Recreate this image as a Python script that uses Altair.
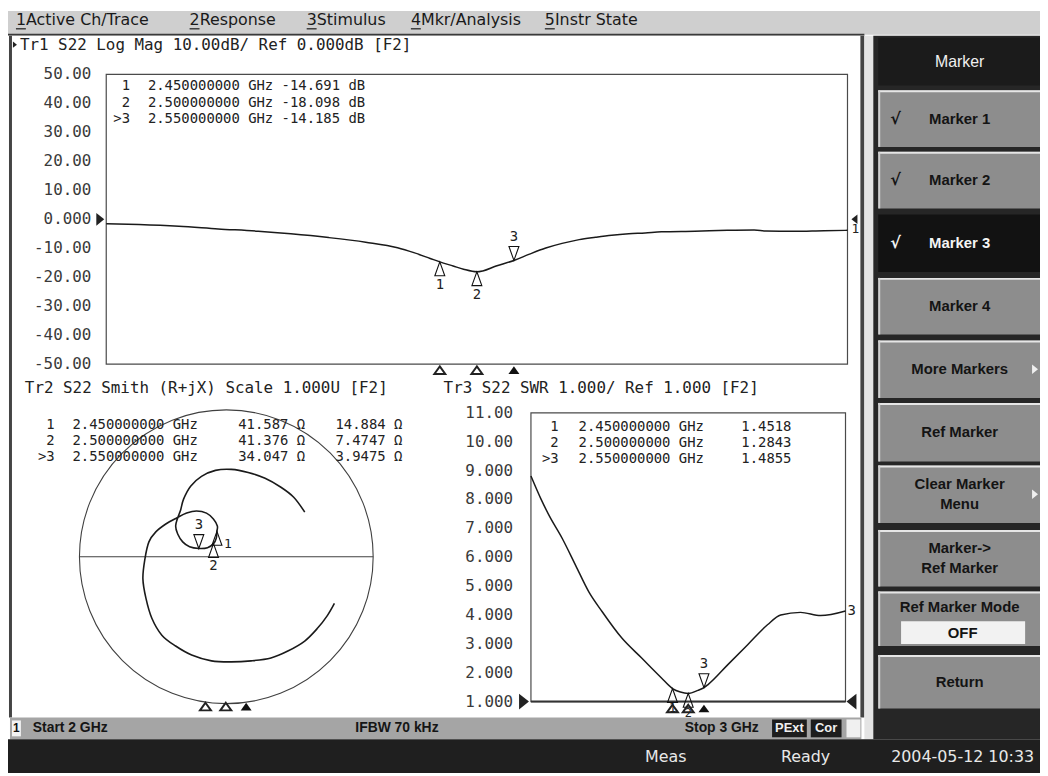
import altair as alt
import pandas as pd

# ---------------- values ----------------
F_START, F_STOP = 2.0, 3.0            # Start 2 GHz / Stop 3 GHz
REF_DB, REF_SWR = 0.0, 1.0            # reference levels
Z0 = 50.0

mk_id = [1, 2, 3]
mk_tag = ["1", "2", ">3"]
mk_freq = [2.45, 2.50, 2.55]               # GHz
mk_db = [-14.691, -18.098, -14.185]        # Tr1 Log Mag (dB)
mk_swr = [1.4518, 1.2843, 1.4855]          # Tr3 SWR
mk_r = [41.587, 41.376, 34.047]            # Tr2 R (ohm)
mk_jx = [14.884, 7.4747, 3.9475]           # Tr2 X (ohm)

# Tr1 S22 Log Mag trace
lm_freq = [2.000, 2.044, 2.098, 2.151, 2.205, 2.249, 2.300, 2.350, 2.393, 2.415,
           2.437, 2.468, 2.482, 2.508, 2.526, 2.571, 2.593, 2.615, 2.638, 2.660,
           2.682, 2.705, 2.727, 2.749, 2.794, 2.838, 2.874, 2.890, 2.928, 2.968, 3.000]
lm_db = [-1.5, -1.8, -2.4, -3.3, -4.1, -5.0, -6.3, -7.9, -9.8, -11.5,
         -13.5, -16.1, -17.2, -17.8, -16.1, -12.0, -9.9, -8.3, -7.0, -6.2,
         -5.5, -5.0, -4.7, -4.3, -4.1, -3.8, -3.7, -4.0, -4.1, -3.9, -3.8]

# Tr3 S22 SWR trace
swr_freq = [2.000, 2.032, 2.058, 2.100, 2.142, 2.184, 2.226, 2.289, 2.352, 2.415,
            2.475, 2.531, 2.563, 2.626, 2.689, 2.752, 2.794, 2.857, 2.921, 3.000]
swr_val = [8.81, 8.01, 7.44, 6.64, 5.72, 4.80, 4.12, 3.20, 2.51, 1.82,
           1.33, 1.39, 1.59, 2.28, 2.97, 3.66, 4.00, 4.09, 3.98, 4.14]

# Tr2 S22 Smith trace (reflection coefficient, real / imaginary)
sm_re = [0.736, 0.689, 0.622, 0.534, 0.419, 0.304, 0.169, 0.034, -0.101, -0.236,
         -0.345, -0.439, -0.507, -0.547, -0.568, -0.554, -0.527, -0.480, -0.412, -0.338,
         -0.270, -0.203, -0.135, -0.088, -0.061, -0.064, -0.068, -0.087, -0.128, -0.187,
         -0.250, -0.297, -0.331, -0.345, -0.331, -0.311, -0.291, -0.243, -0.169, -0.074,
         0.034, 0.149, 0.264, 0.372, 0.459, 0.534]
sm_im = [-0.318, -0.399, -0.486, -0.574, -0.642, -0.689, -0.709, -0.716, -0.709, -0.669,
         -0.608, -0.534, -0.419, -0.284, -0.149, -0.014, 0.101, 0.169, 0.223, 0.264,
         0.297, 0.311, 0.297, 0.257, 0.209, 0.173, 0.128, 0.089, 0.061, 0.056,
         0.068, 0.101, 0.155, 0.209, 0.264, 0.318, 0.392, 0.480, 0.547, 0.588,
         0.595, 0.574, 0.534, 0.473, 0.405, 0.304]

t1_val = [50, 40, 30, 20, 10, 0, -10, -20, -30, -40, -50]
t1_lab = ["50.00", "40.00", "30.00", "20.00", "10.00", "0.000",
          "-10.00", "-20.00", "-30.00", "-40.00", "-50.00"]
t3_val = [11, 10, 9, 8, 7, 6, 5, 4, 3, 2, 1]
t3_lab = ["11.00", "10.00", "9.000", "8.000", "7.000", "6.000",
          "5.000", "4.000", "3.000", "2.000", "1.000"]

menu_items = ["1Active Ch/Trace", "2Response", "3Stimulus", "4Mkr/Analysis", "5Instr State"]
soft_keys = [["Marker 1"], ["Marker 2"], ["Marker 3"], ["Marker 4"], ["More Markers"],
             ["Ref Marker"], ["Clear Marker", "Menu"], ["Marker->", "Ref Marker"],
             ["Ref Marker Mode"], ["Return"]]

# ---------------- tables ----------------
lm_df = pd.DataFrame({"f": lm_freq + mk_freq, "v": lm_db + mk_db}).sort_values("f")
swr_df = pd.DataFrame({"f": swr_freq + mk_freq, "v": swr_val + mk_swr}).sort_values("f")
sm_df = pd.DataFrame({"i": list(range(len(sm_re))), "re": sm_re, "im": sm_im})

gre, gim = [], []
for r, x in zip(mk_r, mk_jx):
    z = complex(r, x) / Z0
    g = (z - 1) / (z + 1)
    gre.append(g.real)
    gim.append(g.imag)

mk = pd.DataFrame({
    "id": mk_id, "lab": [str(i) for i in mk_id], "tag": mk_tag, "f": mk_freq,
    "db": mk_db, "swr": mk_swr, "gre": gre, "gim": gim,
    "t1": [f"{f:.9f} GHz {d:.3f} dB" for f, d in zip(mk_freq, mk_db)],
    "fq": [f"{f:.9f} GHz" for f in mk_freq],
    "t3": [f"{s:.4f}" for s in mk_swr],
    "tr": [f"{r:.3f} \u03a9" for r in mk_r],
    "tx": [f"{x:.5g} \u03a9" for x in mk_jx],
})
yt1 = pd.DataFrame({"v": t1_val, "lab": t1_lab})
yt3 = pd.DataFrame({"v": t3_val, "lab": t3_lab})
lim1 = pd.DataFrame({"f0": [F_START], "f1": [F_STOP], "v0": [min(t1_val)], "v1": [max(t1_val)]})
lim3 = pd.DataFrame({"f0": [F_START], "f1": [F_STOP], "v0": [min(t3_val)], "v1": [max(t3_val)]})
ref1 = pd.DataFrame({"v": [REF_DB]})
ref3 = pd.DataFrame({"v": [REF_SWR]})
end3 = pd.DataFrame({"f": [F_STOP], "v": [swr_val[-1]], "lab": ["3"]})
unit = pd.DataFrame({"a": [-1.0], "b": [1.0], "c": [0.0]})
ONE = pd.DataFrame({"k": [0]})

# ---------------- geometry helpers ----------------
OX, OY = 8, 8


def px(x):
    return x - OX


def py(y):
    return y - OY


MONO = "DejaVu Sans Mono"
SANS = "DejaVu Sans"
ARIAL = "Liberation Sans"
RO = 14  # readout font size


def sc(domain, rng):
    return alt.Scale(domain=domain, range=rng, nice=False, zero=False)


SX1 = sc([F_START, F_STOP], [px(107), px(854)])
SY1 = sc([min(t1_val), max(t1_val)], [py(364), py(72)])
SX3 = sc([F_START, F_STOP], [px(535), px(852)])
SY3 = sc([min(t3_val), max(t3_val)], [py(704), py(413)])
GX = sc([-1, 1], [px(80), px(376)])
GY = sc([-1, 1], [py(706), py(410)])
SXS = sc([mk_freq[0], mk_freq[-1]], [px(207), px(248)])
RY1 = sc([1, 3], [py(84), py(117)])
RY3 = sc([1, 3], [py(427), py(460)])
RYS = sc([1, 3], [py(425), py(458)])

UP = "M0,0L0.5,1.4L-0.5,1.4Z"
DN = "M0,0L0.5,-1.4L-0.5,-1.4Z"
STIM = "M0,-0.7L1,0.7L-1,0.7Z"
RIGHT = "M-1,-1.6L1,0L-1,1.6Z"
LEFT = "M1,-1.6L-1,0L1,1.6Z"


def box(x1, y1, x2, y2, fill):
    return alt.Chart(ONE).mark_rect(fill=fill, strokeWidth=0).encode(
        x=alt.value(px(x1)), x2=alt.value(px(x2)), y=alt.value(py(y1)), y2=alt.value(py(y2)))


def txt(s, x, y, size=14, color="#111111", font=SANS, align="left", weight="normal"):
    return alt.Chart(ONE).mark_text(text=s, align=align, baseline="middle", fontSize=size,
                                    font=font, color=color, fontWeight=weight).encode(
        x=alt.value(px(x)), y=alt.value(py(y)))


def hline(x1, x2, y, color, w=1.0):
    return alt.Chart(ONE).mark_rule(color=color, strokeWidth=w).encode(
        x=alt.value(px(x1)), x2=alt.value(px(x2)), y=alt.value(py(y)))


def sym(shape, x, y, size, color, filled=True):
    return alt.Chart(ONE).mark_point(shape=shape, size=size, filled=filled, color=color,
                                     opacity=1, strokeWidth=1).encode(
        x=alt.value(px(x)), y=alt.value(py(y)))


layers = []

# ---------------- screen furniture ----------------
layers += [
    box(8, 8, 1048, 32, "#cfcfcf"),
    box(8, 31, 871, 33, "#3a3a3a"),
    box(8, 33, 871, 720, "#ffffff"),
    box(9, 33, 12, 720, "#444444"),
    box(867, 33, 871, 720, "#444444"),
    box(871, 33, 880, 742, "#e4e4e4"),
    box(880, 33, 1048, 742, "#262626"),
    box(10, 720, 868, 742, "#a5a5a5"),
    box(8, 742, 1048, 776, "#1f1f1f"),
]

menu_x = [16, 191, 309, 414, 549]
for s, x in zip(menu_items, menu_x):
    layers.append(txt(s, x, 17, size=16, color="#1a1a1a", font=SANS))
    layers.append(hline(x, x + 10, 26, "#1a1a1a", 1.2))

# soft keys
layers.append(box(885, 35, 1048, 83, "#1b1b1b"))
layers.append(txt("Marker", 967, 59, size=16, color="#f0f0f0", font=ARIAL, align="center"))
key_top = [88, 150, 213, 277, 340, 403, 466, 531, 593, 657]
key_bot = [145, 207, 271, 334, 398, 462, 524, 588, 648, 711]
for i, (lines, y0, y1) in enumerate(zip(soft_keys, key_top, key_bot)):
    active = (i == 2)
    if active:
        layers.append(box(885, y0, 1048, y1, "#121212"))
        col = "#f4f4f4"
    else:
        layers.append(box(885, y0, 1048, y1, "#8d8d8d"))
        layers.append(box(885, y0, 1048, y0 + 2, "#e6e6e6"))
        layers.append(box(885, y0, 887, y1, "#d0d0d0"))
        col = "#141414"
    yc = (y0 + y1) / 2
    if lines[0] == "Ref Marker Mode":
        layers.append(txt(lines[0], 967, y0 + 16, size=15, color=col, font=ARIAL,
                          align="center", weight="bold"))
        layers.append(box(908, y0 + 30, 1033, y0 + 53, "#f2f2f2"))
        layers.append(txt("OFF", 970, y0 + 42, size=15, color="#141414", font=ARIAL,
                          align="center", weight="bold"))
    elif len(lines) == 2:
        layers.append(txt(lines[0], 967, yc - 10, size=15, color=col, font=ARIAL,
                          align="center", weight="bold"))
        layers.append(txt(lines[1], 967, yc + 10, size=15, color=col, font=ARIAL,
                          align="center", weight="bold"))
    else:
        layers.append(txt(lines[0], 967, yc, size=15, color=col, font=ARIAL,
                          align="center", weight="bold"))
    if i < 3:
        layers.append(txt("\u221a", 897, yc, size=16, color=col, font=SANS, weight="bold"))
    if lines[0] in ("More Markers", "Clear Marker"):
        layers.append(sym(RIGHT, 1043, yc, 36, "#f0f0f0"))

# channel status bar
layers += [
    box(12, 723, 21, 739, "#f2f2f2"),
    txt("1", 16.5, 731, size=12, color="#111111", font=ARIAL, align="center", weight="bold"),
    txt("Start 2 GHz", 33, 731, size=14, color="#151515", font=ARIAL, weight="bold"),
    txt("IFBW 70 kHz", 358, 731, size=14, color="#151515", font=ARIAL, weight="bold"),
    txt("Stop 3 GHz", 690, 731, size=14, color="#151515", font=ARIAL, weight="bold"),
    box(778, 722, 813, 740, "#1d1d1d"),
    txt("PExt", 795.5, 731, size=13, color="#f0f0f0", font=ARIAL, align="center", weight="bold"),
    box(817, 722, 848, 740, "#1d1d1d"),
    txt("Cor", 832.5, 731, size=13, color="#f0f0f0", font=ARIAL, align="center", weight="bold"),
    box(853, 722, 867, 740, "#f0f0f0"),
]
# instrument status bar
layers += [
    txt("Meas", 650, 760, size=16, color="#e8e8e8", font=SANS),
    txt("Ready", 787, 760, size=16, color="#e8e8e8", font=SANS),
    txt("2004-05-12 10:33", 898, 760, size=16, color="#e8e8e8", font=SANS),
]

# ---------------- Tr1 : Log Mag ----------------
layers.append(sym(RIGHT, 15, 42, 16, "#222222"))
layers.append(txt("Tr1 S22 Log Mag 10.00dB/ Ref 0.000dB [F2]", 20, 42, size=16,
                  color="#222222", font=MONO))
layers.append(alt.Chart(lim1).mark_rect(fillOpacity=0, stroke="#4a4a4a", strokeWidth=1.2).encode(
    x=alt.X("f0:Q", scale=SX1, axis=None), x2="f1:Q",
    y=alt.Y("v0:Q", scale=SY1, axis=None), y2="v1:Q"))
layers.append(alt.Chart(yt1).mark_text(align="right", baseline="middle", font=MONO, fontSize=16,
                                       color="#3a3a3a").encode(
    x=alt.value(px(92)), y=alt.Y("v:Q", scale=SY1, axis=None), text="lab:N"))
layers.append(alt.Chart(ref1).mark_point(shape=RIGHT, size=64, filled=True, color="#222222",
                                         opacity=1).encode(
    x=alt.value(px(101)), y=alt.Y("v:Q", scale=SY1, axis=None)))
layers.append(alt.Chart(ref1).mark_point(shape=LEFT, size=36, filled=True, color="#222222",
                                         opacity=1).encode(
    x=alt.value(px(861)), y=alt.Y("v:Q", scale=SY1, axis=None)))
layers.append(alt.Chart(ref1).mark_text(dy=10, font=MONO, fontSize=13, color="#222222").encode(
    x=alt.value(px(862)), y=alt.Y("v:Q", scale=SY1, axis=None), text=alt.value("1")))
layers.append(alt.Chart(lm_df).mark_line(color="#1a1a1a", strokeWidth=1.5,
                                         interpolate="monotone").encode(
    x=alt.X("f:Q", scale=SX1, axis=None), y=alt.Y("v:Q", scale=SY1, axis=None)))

m12 = alt.Chart(mk).transform_filter("datum.id < 3")
m1 = alt.Chart(mk).transform_filter("datum.id == 1")
m2 = alt.Chart(mk).transform_filter("datum.id == 2")
m3 = alt.Chart(mk).transform_filter("datum.id == 3")
layers += [
    m12.mark_point(shape=UP, size=400, filled=False, color="#111111", opacity=1,
                   strokeWidth=1.1).encode(
        x=alt.X("f:Q", scale=SX1, axis=None), y=alt.Y("db:Q", scale=SY1, axis=None)),
    m3.mark_point(shape=DN, size=400, filled=False, color="#111111", opacity=1,
                  strokeWidth=1.1).encode(
        x=alt.X("f:Q", scale=SX1, axis=None), y=alt.Y("db:Q", scale=SY1, axis=None)),
    m12.mark_text(dy=23, font=MONO, fontSize=14, color="#222222").encode(
        x=alt.X("f:Q", scale=SX1, axis=None), y=alt.Y("db:Q", scale=SY1, axis=None), text="lab:N"),
    m3.mark_text(dy=-24, font=MONO, fontSize=14, color="#222222").encode(
        x=alt.X("f:Q", scale=SX1, axis=None), y=alt.Y("db:Q", scale=SY1, axis=None), text="lab:N"),
    m12.mark_point(shape=STIM, size=121, filled=False, color="#222222", opacity=1).encode(
        x=alt.X("f:Q", scale=SX1, axis=None), y=alt.value(py(370))),
    m3.mark_point(shape=STIM, size=121, filled=True, color="#111111", opacity=1).encode(
        x=alt.X("f:Q", scale=SX1, axis=None), y=alt.value(py(370))),
    alt.Chart(mk).mark_text(align="right", baseline="middle", font=MONO, fontSize=RO,
                            color="#222222").encode(
        x=alt.value(px(131)), y=alt.Y("id:Q", scale=RY1, axis=None), text="tag:N"),
    alt.Chart(mk).mark_text(align="left", baseline="middle", font=MONO, fontSize=RO,
                            color="#222222").encode(
        x=alt.value(px(149)), y=alt.Y("id:Q", scale=RY1, axis=None), text="t1:N"),
]

# ---------------- Tr2 : Smith chart ----------------
layers.append(txt("Tr2 S22 Smith (R+jX) Scale 1.000U [F2]", 25, 388, size=16,
                  color="#222222", font=MONO))
layers.append(alt.Chart(unit).mark_point(shape="circle", size=296 * 296, filled=False,
                                         color="#404040", opacity=1, strokeWidth=1.1).encode(
    x=alt.X("c:Q", scale=GX, axis=None), y=alt.Y("c:Q", scale=GY, axis=None)))
layers.append(alt.Chart(unit).mark_rule(color="#404040", strokeWidth=1.1).encode(
    x=alt.X("a:Q", scale=GX, axis=None), x2="b:Q", y=alt.Y("c:Q", scale=GY, axis=None)))
layers.append(alt.Chart(sm_df).mark_line(color="#1a1a1a", strokeWidth=1.6,
                                         interpolate="cardinal").encode(
    x=alt.X("re:Q", scale=GX, axis=None), y=alt.Y("im:Q", scale=GY, axis=None),
    order=alt.Order("i:Q")))
layers += [
    m12.mark_point(shape=UP, size=400, filled=False, color="#111111", opacity=1,
                   strokeWidth=1.1).encode(
        x=alt.X("gre:Q", scale=GX, axis=None), y=alt.Y("gim:Q", scale=GY, axis=None)),
    m3.mark_point(shape=DN, size=400, filled=False, color="#111111", opacity=1,
                  strokeWidth=1.1).encode(
        x=alt.X("gre:Q", scale=GX, axis=None), y=alt.Y("gim:Q", scale=GY, axis=None)),
    m1.mark_text(dx=11, dy=13, font=MONO, fontSize=13, color="#222222").encode(
        x=alt.X("gre:Q", scale=GX, axis=None), y=alt.Y("gim:Q", scale=GY, axis=None), text="lab:N"),
    m2.mark_text(dy=23, font=MONO, fontSize=14, color="#222222").encode(
        x=alt.X("gre:Q", scale=GX, axis=None), y=alt.Y("gim:Q", scale=GY, axis=None), text="lab:N"),
    m3.mark_text(dy=-24, font=MONO, fontSize=14, color="#222222").encode(
        x=alt.X("gre:Q", scale=GX, axis=None), y=alt.Y("gim:Q", scale=GY, axis=None), text="lab:N"),
    m12.mark_point(shape=STIM, size=121, filled=False, color="#222222", opacity=1).encode(
        x=alt.X("f:Q", scale=SXS, axis=None), y=alt.value(py(709))),
    m3.mark_point(shape=STIM, size=121, filled=True, color="#111111", opacity=1).encode(
        x=alt.X("f:Q", scale=SXS, axis=None), y=alt.value(py(709))),
    alt.Chart(mk).mark_text(align="right", baseline="middle", font=MONO, fontSize=RO,
                            color="#222222").encode(
        x=alt.value(px(55)), y=alt.Y("id:Q", scale=RYS, axis=None), text="tag:N"),
    alt.Chart(mk).mark_text(align="left", baseline="middle", font=MONO, fontSize=RO,
                            color="#222222").encode(
        x=alt.value(px(73)), y=alt.Y("id:Q", scale=RYS, axis=None), text="fq:N"),
    alt.Chart(mk).mark_text(align="left", baseline="middle", font=MONO, fontSize=RO,
                            color="#222222").encode(
        x=alt.value(px(240)), y=alt.Y("id:Q", scale=RYS, axis=None), text="tr:N"),
    alt.Chart(mk).mark_text(align="left", baseline="middle", font=MONO, fontSize=RO,
                            color="#222222").encode(
        x=alt.value(px(338)), y=alt.Y("id:Q", scale=RYS, axis=None), text="tx:N"),
]

# ---------------- Tr3 : SWR ----------------
layers.append(txt("Tr3 S22 SWR 1.000/ Ref 1.000 [F2]", 447, 388, size=16,
                  color="#222222", font=MONO))
layers.append(alt.Chart(lim3).mark_rect(fillOpacity=0, stroke="#4a4a4a", strokeWidth=1.2).encode(
    x=alt.X("f0:Q", scale=SX3, axis=None), x2="f1:Q",
    y=alt.Y("v0:Q", scale=SY3, axis=None), y2="v1:Q"))
layers.append(alt.Chart(ref3).mark_rule(color="#333333", strokeWidth=2).encode(
    x=alt.value(px(535)), x2=alt.value(px(852)), y=alt.Y("v:Q", scale=SY3, axis=None)))
layers.append(alt.Chart(yt3).mark_text(align="right", baseline="middle", font=MONO, fontSize=16,
                                       color="#3a3a3a").encode(
    x=alt.value(px(517)), y=alt.Y("v:Q", scale=SY3, axis=None), text="lab:N"))
layers.append(alt.Chart(ref3).mark_point(shape=RIGHT, size=100, filled=True, color="#222222",
                                         opacity=1).encode(
    x=alt.value(px(528)), y=alt.Y("v:Q", scale=SY3, axis=None)))
layers.append(alt.Chart(ref3).mark_point(shape=LEFT, size=100, filled=True, color="#222222",
                                         opacity=1).encode(
    x=alt.value(px(858)), y=alt.Y("v:Q", scale=SY3, axis=None)))
layers.append(alt.Chart(swr_df).mark_line(color="#1a1a1a", strokeWidth=1.5,
                                          interpolate="monotone").encode(
    x=alt.X("f:Q", scale=SX3, axis=None), y=alt.Y("v:Q", scale=SY3, axis=None)))
layers.append(alt.Chart(end3).mark_text(align="left", baseline="middle", dx=2, font=MONO,
                                        fontSize=14, color="#222222").encode(
    x=alt.X("f:Q", scale=SX3, axis=None), y=alt.Y("v:Q", scale=SY3, axis=None), text="lab:N"))
layers += [
    m12.mark_point(shape=UP, size=400, filled=False, color="#111111", opacity=1,
                   strokeWidth=1.1).encode(
        x=alt.X("f:Q", scale=SX3, axis=None), y=alt.Y("swr:Q", scale=SY3, axis=None)),
    m3.mark_point(shape=DN, size=400, filled=False, color="#111111", opacity=1,
                  strokeWidth=1.1).encode(
        x=alt.X("f:Q", scale=SX3, axis=None), y=alt.Y("swr:Q", scale=SY3, axis=None)),
    m12.mark_text(dy=20, font=MONO, fontSize=12, color="#222222").encode(
        x=alt.X("f:Q", scale=SX3, axis=None), y=alt.Y("swr:Q", scale=SY3, axis=None), text="lab:N"),
    m3.mark_text(dy=-24, font=MONO, fontSize=14, color="#222222").encode(
        x=alt.X("f:Q", scale=SX3, axis=None), y=alt.Y("swr:Q", scale=SY3, axis=None), text="lab:N"),
    m12.mark_point(shape=STIM, size=121, filled=False, color="#222222", opacity=1).encode(
        x=alt.X("f:Q", scale=SX3, axis=None), y=alt.value(py(711))),
    m3.mark_point(shape=STIM, size=121, filled=True, color="#111111", opacity=1).encode(
        x=alt.X("f:Q", scale=SX3, axis=None), y=alt.value(py(711))),
    alt.Chart(mk).mark_text(align="right", baseline="middle", font=MONO, fontSize=RO,
                            color="#222222").encode(
        x=alt.value(px(563)), y=alt.Y("id:Q", scale=RY3, axis=None), text="tag:N"),
    alt.Chart(mk).mark_text(align="left", baseline="middle", font=MONO, fontSize=RO,
                            color="#222222").encode(
        x=alt.value(px(583)), y=alt.Y("id:Q", scale=RY3, axis=None), text="fq:N"),
    alt.Chart(mk).mark_text(align="left", baseline="middle", font=MONO, fontSize=RO,
                            color="#222222").encode(
        x=alt.value(px(747)), y=alt.Y("id:Q", scale=RY3, axis=None), text="t3:N"),
]

chart = alt.layer(*layers).resolve_scale(x="independent", y="independent").properties(
    width=1040, height=768, padding=0,
    autosize=alt.AutoSizeParams(type="none"),
    background="#ffffff",
).configure_view(strokeWidth=0)

chart.save("out.html", embed_options={"renderer": "svg", "actions": False})
